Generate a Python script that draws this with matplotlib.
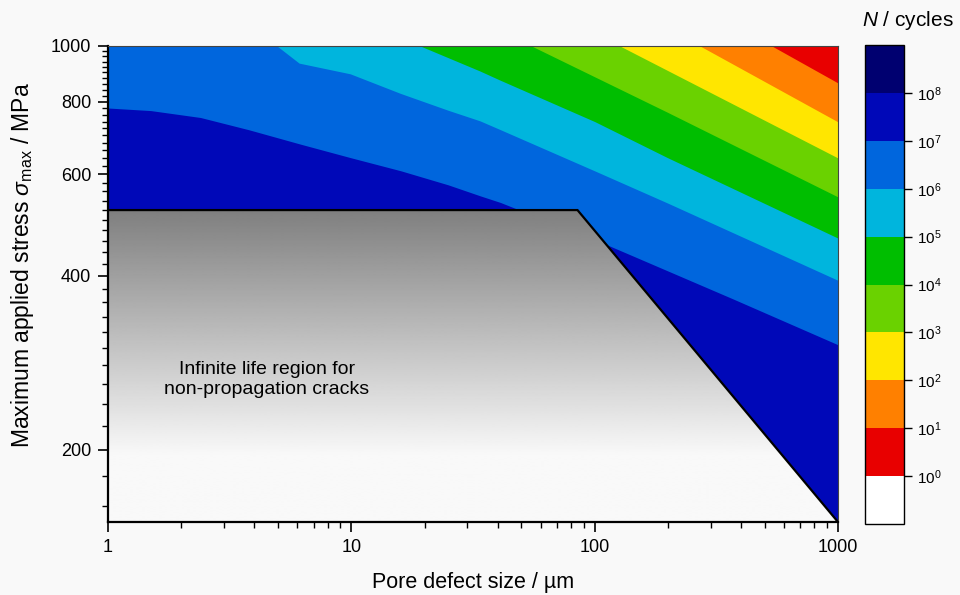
import matplotlib.pyplot as plt
import numpy as np
from matplotlib import ticker
from matplotlib.cm import ScalarMappable
from matplotlib.colors import BoundaryNorm, ListedColormap
from matplotlib.patches import Polygon

plt.rcParams["font.family"] = ["Liberation Sans", "DejaVu Sans"]
plt.rcParams["mathtext.fontset"] = "custom"
plt.rcParams["mathtext.rm"] = "Liberation Sans"
plt.rcParams["mathtext.it"] = "Liberation Sans:italic"

# iso-life boundaries: defect size (um) vs max stress (MPa) where N = 10^k cycles
size_1e7 = [1, 1.5, 2.4, 3.8, 6.2, 9.9, 16, 25, 34, 41, 112, 370, 1000]
stress_1e7 = [781, 773, 752, 716, 676, 641, 608, 575, 550, 536, 453, 365, 304]
size_1e6 = [4.95, 6.1, 9.9, 15.9, 25, 33.8, 40.8, 100, 199, 1000]
stress_1e6 = [1000, 934, 895, 828, 774, 742, 717, 608, 535, 393]
size_1e5 = [19.2, 33.8, 40.8, 100, 199, 1000]
stress_1e5 = [1000, 905, 873, 740, 641, 465]
size_1e4 = [55, 199, 1000]
stress_1e4 = [1000, 768, 548]
size_1e3 = [127, 1000]
stress_1e3 = [1000, 640]
size_1e2 = [271, 1000]
stress_1e2 = [1000, 739]
size_1e1 = [535, 1000]
stress_1e1 = [1000, 863]

# infinite life region (threshold + Kitagawa line)
limit_size = [1, 1, 85, 1000]
limit_stress = [150, 520, 520, 150]

# colour bands, from < 10^0 up to > 10^8
band_colors = ["#ffffff", "#e80000", "#ff8000", "#ffe600", "#6ad200",
               "#00be00", "#00b5dd", "#0066dd", "#0008b8", "#000070"]
exponents = list(range(9))

fig = plt.figure(figsize=(9.6, 5.95), dpi=100)
fig.patch.set_facecolor("#f9f9f9")
ax = fig.add_axes([0.1125, 0.1227, 0.7604, 0.80])
ax.set_xscale("log")
ax.set_yscale("log")
ax.set_facecolor(band_colors[8])

bounds = [(size_1e7, stress_1e7, 7), (size_1e6, stress_1e6, 6),
          (size_1e5, stress_1e5, 5), (size_1e4, stress_1e4, 4),
          (size_1e3, stress_1e3, 3), (size_1e2, stress_1e2, 2),
          (size_1e1, stress_1e1, 1)]
for sz, st, k in bounds:
    ax.fill_between(sz, st, 1000, color=band_colors[k], lw=0, zorder=1)

# grey gradient region
poly = Polygon(np.column_stack([limit_size, limit_stress]), closed=True,
               facecolor="none", edgecolor="black", lw=1.6, zorder=4)
ax.add_patch(poly)
frac = np.linspace(0, 1, 400)
grey = np.clip(0.975 - (frac - 0.14) / (0.653 - 0.14) * (0.975 - 0.50), 0.5, 0.975)
im = ax.imshow(grey.reshape(-1, 1), extent=(0, 1, 0, 1), transform=ax.transAxes,
               origin="lower", cmap="gray", vmin=0, vmax=1, aspect="auto",
               interpolation="bilinear", zorder=3)
im.set_clip_path(poly)

ax.text(4.5, 265, "Infinite life region for\nnon-propagation cracks",
        ha="center", va="center", fontsize=14, zorder=5, linespacing=1.2)

ax.set_xlim(1, 1000)
ax.set_ylim(150, 1000)
ax.xaxis.set_major_locator(ticker.FixedLocator([1, 10, 100, 1000]))
ax.xaxis.set_major_formatter(ticker.FixedFormatter(["1", "10", "100", "1000"]))
ax.xaxis.set_minor_locator(ticker.LogLocator(subs=np.arange(2, 10)))
ax.xaxis.set_minor_formatter(ticker.NullFormatter())
ax.yaxis.set_major_locator(ticker.FixedLocator([200, 400, 600, 800, 1000]))
ax.yaxis.set_major_formatter(ticker.FixedFormatter(["200", "400", "600", "800", "1000"]))
ax.yaxis.set_minor_locator(ticker.FixedLocator(np.arange(160, 1000, 20)))
ax.yaxis.set_minor_formatter(ticker.NullFormatter())
ax.tick_params(which="major", direction="out", length=7, width=1.2, labelsize=13, pad=5)
ax.tick_params(which="minor", direction="out", length=4, width=1)
ax.tick_params(top=False, right=False, which="both")
for side in ["left", "bottom"]:
    ax.spines[side].set_linewidth(1.6)
for side in ["top", "right"]:
    ax.spines[side].set_linewidth(0.8)
    ax.spines[side].set_color("#444444")

ax.set_xlabel("Pore defect size / µm", fontsize=15.5, labelpad=12)
ax.set_ylabel(r"Maximum applied stress $\sigma_{\rm max}$ / MPa", fontsize=16.5)
ax.yaxis.set_label_coords(-0.098, 0.54)

# colour bar
cax = fig.add_axes([0.901, 0.1193, 0.0406, 0.805])
cmap = ListedColormap(band_colors)
norm = BoundaryNorm(np.arange(-1, 10), cmap.N)
cb = fig.colorbar(ScalarMappable(norm=norm, cmap=cmap), cax=cax, ticks=exponents)
cb.set_ticklabels([f"$10^{{{k}}}$" for k in exponents])
cb.outline.set_linewidth(1)
cax.tick_params(direction="out", length=6, width=1, labelsize=11)
cax.minorticks_off()
fig.text(0.946, 0.966, r"$N$ / cycles", ha="center", va="center", fontsize=15)

fig.savefig("out.png", dpi=100, facecolor=fig.get_facecolor())
